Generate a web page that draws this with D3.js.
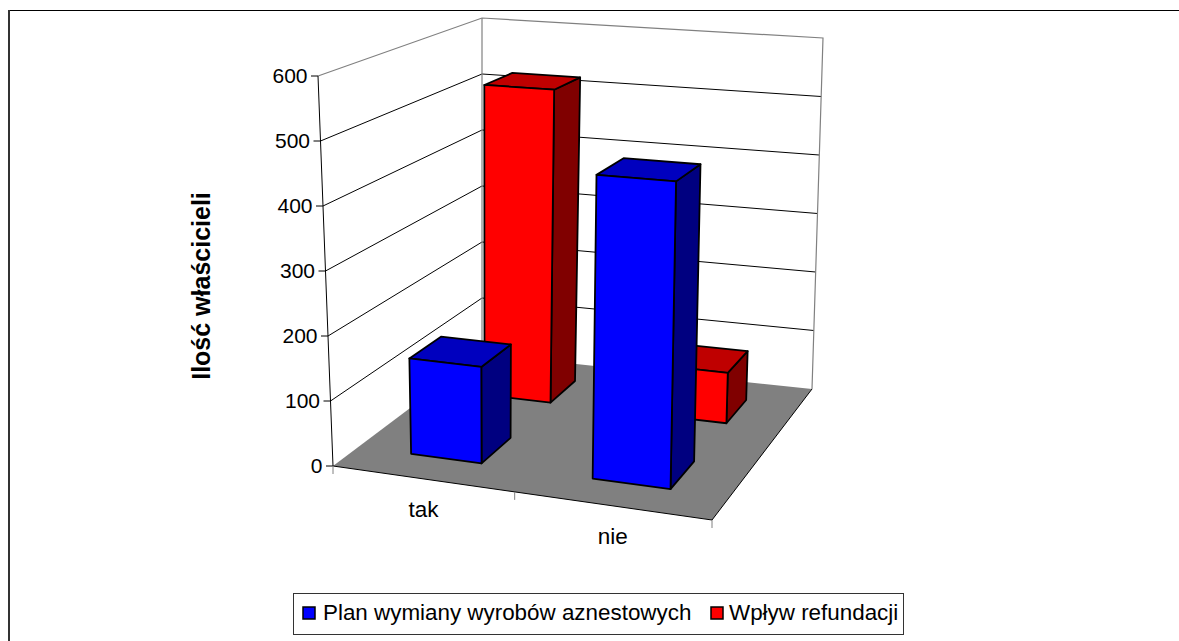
<!DOCTYPE html>
<html><head><meta charset="utf-8">
<script src="https://cdn.jsdelivr.net/npm/d3@7"></script>
<style>html,body{margin:0;padding:0;background:#fff}svg{display:block}text{font-family:"Liberation Sans",Arial,sans-serif;fill:#000}</style>
</head><body><svg id="c" width="1179" height="641"></svg>
<script>
const categories = ["tak", "nie"];
const seriesNames = ["Wpływ refundacji", "Plan wymiany wyrobów aznestowych"]; // back to front
const seriesColors = ["#ff0000", "#0000ff"];
const wplywValues = [523, 82];
const planValues = [149, 460];
const valueTicks = [0, 100, 200, 300, 400, 500, 600];
const axisTitle = "Ilość właścicieli";

// perspective frame of the chart box (corners: front-left, front-right, back-right, back-left)
const floorCorners = [[333,466],[712,520],[812,389],[482,354]];
const ceilCorners  = [[318,76],[719,103],[823,38],[482,18]];

function homography(q){
  const [[x0,y0],[x1,y1],[x2,y2],[x3,y3]] = q;
  const dx1=x1-x2, dx2=x3-x2, sx=x0-x1+x2-x3, dy1=y1-y2, dy2=y3-y2, sy=y0-y1+y2-y3;
  const det=dx1*dy2-dx2*dy1;
  const g=(sx*dy2-dx2*sy)/det, h=(dx1*sy-sx*dy1)/det;
  const a=x1-x0+g*x1, b=x3-x0+h*x3, d=y1-y0+g*y1, e=y3-y0+h*y3;
  return (u,w)=>{const k=g*u+h*w+1;return [(a*u+b*w+x0)/k,(d*u+e*w+y0)/k];};
}
const floorH=homography(floorCorners), ceilH=homography(ceilCorners);
const vScale=d3.scaleLinear().domain([0,600]).range([0,1]);
function P(u,w,val){
  const t=vScale(val), a=floorH(u,w), b=ceilH(u,w);
  return [a[0]+(b[0]-a[0])*t, a[1]+(b[1]-a[1])*t];
}
const xScale=d3.scaleBand().domain(categories).range([0.004,1.004]).paddingInner(0.6).paddingOuter(0.3);
const zScale=d3.scaleBand().domain(seriesNames).range([1,0]).paddingInner(0.6).paddingOuter(0.3);
const line=d3.line();
const closed=pts=>line(pts)+"Z";
const svg=d3.select("#c");

// frame
svg.append("rect").attr("width",1179).attr("height",641).attr("fill","#fff");
svg.append("path").attr("d","M8.5,641V10.5H1179").attr("fill","none").attr("stroke","#000").attr("stroke-width",1);
svg.append("path").attr("d","M9,641V10").attr("fill","none").attr("stroke","#333").attr("stroke-width",2);

// walls
const wall=svg.append("g");
wall.append("path").attr("d",closed([P(0,0,0),P(0,1,0),P(0,1,600),P(0,0,600)])).attr("fill","#fff");
wall.append("path").attr("d",closed([P(0,1,0),P(1,1,0),P(1,1,600),P(0,1,600)])).attr("fill","#fff");
// floor
wall.append("path").attr("d",closed([P(0,0,0),P(1,0,0),P(1,1,0),P(0,1,0)])).attr("fill","#808080");
// gridlines
valueTicks.filter(v=>v>0&&v<600).forEach(v=>{
  wall.append("path").attr("d",line([P(0,0,v),P(0,1,v),P(1,1,v)])).attr("fill","none").attr("stroke","#000").attr("stroke-width",1);
});
// gray wall edges
wall.append("path").attr("d",line([P(0,0,600),P(0,1,600),P(1,1,600),P(1,1,0)])).attr("fill","none").attr("stroke","#808080").attr("stroke-width",1.2);
wall.append("path").attr("d",line([P(0,1,600),P(0,1,0)])).attr("fill","none").attr("stroke","#808080").attr("stroke-width",1.2);
// axes lines
wall.append("path").attr("d",line([P(0,0,600),P(0,0,0),P(1,0,0),P(1,1,0)])).attr("fill","none").attr("stroke","#000").attr("stroke-width",1);
// value ticks + labels
valueTicks.forEach(v=>{
  const p=P(0,0,v);
  wall.append("path").attr("d",line([[p[0]-7,p[1]],p])).attr("stroke","#000").attr("fill","none");
  svg.append("text").attr("x",p[0]-10.5).attr("y",p[1]+7).attr("text-anchor","end").attr("font-size",21).text(v);
});
// category ticks + labels
[0,0.505,1].forEach(u=>{
  const p=P(u,0,0);
  wall.append("path").attr("d",line([p,[p[0],p[1]+8]])).attr("stroke","#808080").attr("fill","none");
});
categories.forEach(c=>{
  const u=xScale(c)+xScale.bandwidth()/2, p=P(u,0,0);
  svg.append("text").attr("x",p[0]+1.5).attr("y",p[1]+38).attr("text-anchor","middle").attr("font-size",22.5).text(c);
});

// bars
const shade=(c,f)=>{const r=d3.rgb(c);return d3.rgb(r.r*f,r.g*f,r.b*f).formatHex();};
const valuesBySeries={[seriesNames[0]]:wplywValues,[seriesNames[1]]:planValues};
seriesNames.forEach((s,si)=>{
  categories.forEach((c,ci)=>{
    const v=valuesBySeries[s][ci], u0=xScale(c), u1=u0+xScale.bandwidth(), w0=zScale(s), w1=w0+zScale.bandwidth();
    const g=svg.append("g").attr("stroke","#000").attr("stroke-width",1.8).attr("stroke-linejoin","round");
    g.append("path").attr("fill",shade(seriesColors[si],0.5)).attr("d",closed([P(u1,w0,0),P(u1,w1,0),P(u1,w1,v),P(u1,w0,v)]));
    g.append("path").attr("fill",shade(seriesColors[si],0.75)).attr("d",closed([P(u0,w0,v),P(u1,w0,v),P(u1,w1,v),P(u0,w1,v)]));
    g.append("path").attr("fill",seriesColors[si]).attr("d",closed([P(u0,w0,0),P(u1,w0,0),P(u1,w0,v),P(u0,w0,v)]));
  });
});

// axis title
svg.append("text").attr("transform","translate(209.5,286) rotate(-90)").attr("text-anchor","middle").attr("font-size",25).attr("font-weight","bold").text(axisTitle);

// legend
const lg=svg.append("g");
lg.append("rect").attr("x",293.5).attr("y",593.5).attr("width",610).attr("height",41).attr("fill","#fff").attr("stroke","#333");
const legendItems=[[seriesNames[1],seriesColors[1],303,323],[seriesNames[0],seriesColors[0],711,729]];
legendItems.forEach(([n,col,sx,tx])=>{
  lg.append("rect").attr("x",sx).attr("y",607).attr("width",12).attr("height",12).attr("fill",col).attr("stroke","#000").attr("stroke-width",1.5);
  lg.append("text").attr("x",tx).attr("y",620).attr("font-size",22.4).text(n);
});
</script></body></html>
